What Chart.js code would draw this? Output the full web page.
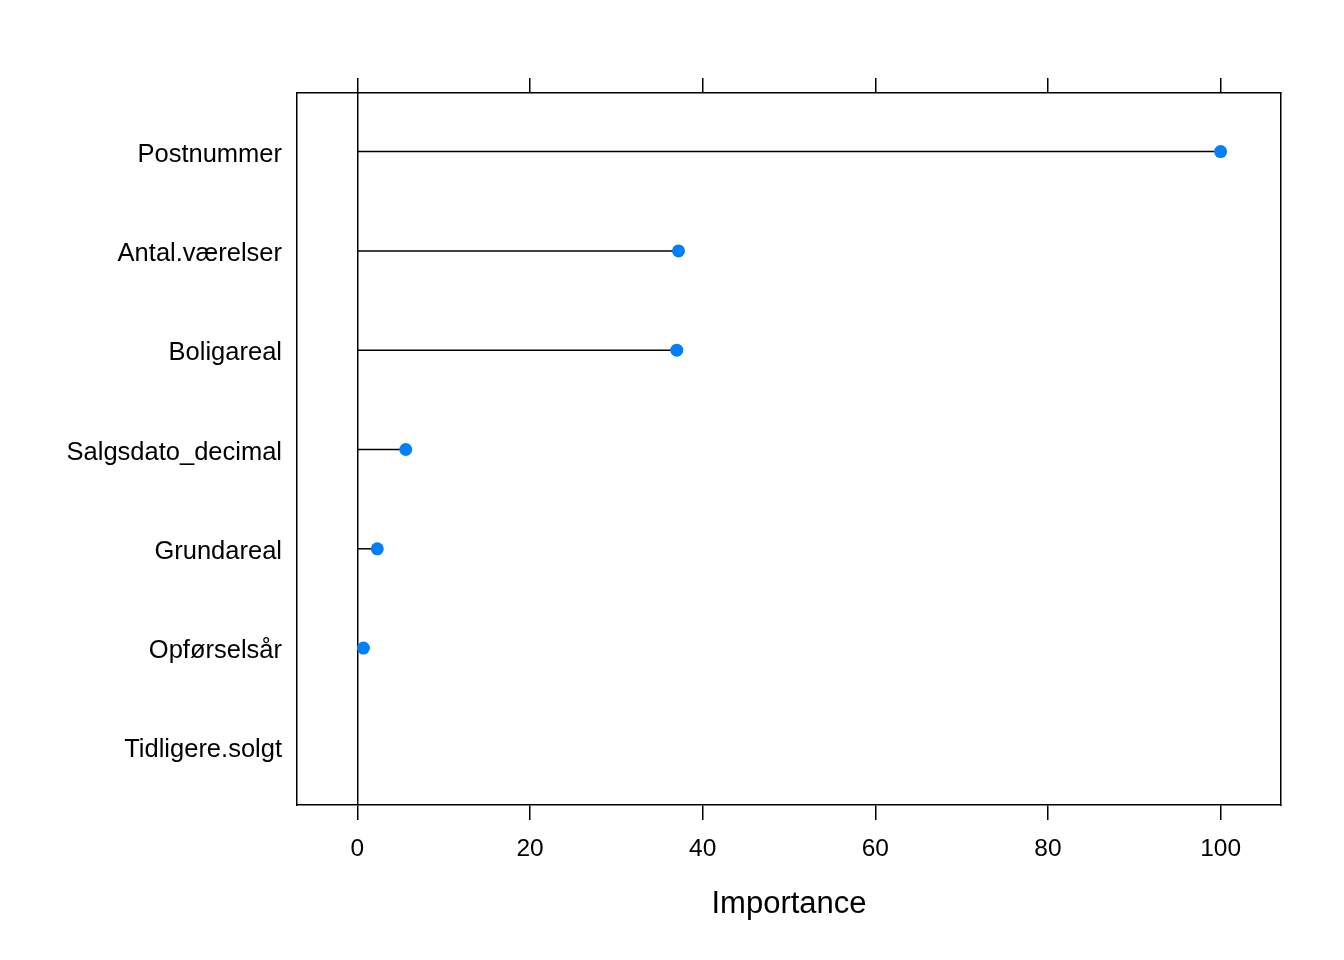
<!DOCTYPE html>
<html>
<head>
<meta charset="utf-8">
<script src="https://cdn.jsdelivr.net/npm/chart.js@4/dist/chart.umd.min.js"></script>
<style>
  html, body { margin: 0; padding: 0; background: #fff; }
  canvas { display: block; }
</style>
</head>
<body>
<canvas id="imp-chart" width="1344" height="960"></canvas>
<script>
const variables  = ['Postnummer', 'Antal.værelser', 'Boligareal', 'Salgsdato_decimal', 'Grundareal', 'Opførselsår', 'Tidligere.solgt'];
const importance = [100, 37.2, 37.0, 5.6, 2.3, 0.7, null];
const xTicks     = [0, 20, 40, 60, 80, 100];

const FONT = "'Liberation Sans', Arial, sans-serif";

// one stem per variable, from 0 to its importance
const stems = variables.map((v, i) => ({
  type: 'line',
  data: importance[i] == null ? [] : [{ x: 0, y: i + 1 }, { x: importance[i], y: i + 1 }],
  borderColor: '#000',
  borderWidth: 1.5,
  pointRadius: 0,
  showLine: true,
  order: 2,
}));

const dots = {
  type: 'scatter',
  data: importance.map((v, i) => v == null ? null : { x: v, y: i + 1 }).filter(p => p),
  backgroundColor: '#0080FF',
  borderColor: '#0080FF',
  borderWidth: 0,
  pointRadius: 6.5,
  order: 1,
};

const setXTicks = s => { s.ticks = xTicks.map(v => ({ value: v })); };
const setYTicks = s => { s.ticks = variables.map((v, i) => ({ value: i + 1 })); };

new Chart(document.getElementById('imp-chart'), {
  type: 'scatter',
  data: { datasets: [...stems, dots] },
  options: {
    responsive: false,
    animation: false,
    layout: { padding: 0 },
    plugins: { legend: { display: false }, tooltip: { enabled: false } },
    scales: {
      x: {
        type: 'linear', position: 'bottom', min: -7, max: 107,
        afterBuildTicks: setXTicks,
        afterFit: s => { s.height = 155; },
        grid: {
          color: c => (c.tick && c.tick.value === 0) ? '#000' : 'rgba(0,0,0,0)',
          tickColor: '#000', tickLength: 15, lineWidth: 1.5,
        },
        border: { display: true, color: '#000', width: 1.5 },
        ticks: { color: '#000', font: { family: FONT, size: 24.5 }, padding: 15, maxRotation: 0 },
        title: { display: true, text: 'Importance', color: '#000', font: { family: FONT, size: 31 }, padding: { top: 0, bottom: 37 } },
      },
      x2: {
        type: 'linear', position: 'top', min: -7, max: 107,
        afterBuildTicks: setXTicks,
        afterFit: s => { s.height = 93; },
        grid: { drawOnChartArea: false, color: '#000', tickColor: '#000', tickLength: 15, lineWidth: 1.5 },
        border: { display: true, color: '#000', width: 1.5 },
        ticks: { display: false },
      },
      y: {
        type: 'linear', position: 'left', min: 0.41, max: 7.58, reverse: true,
        afterBuildTicks: setYTicks,
        afterFit: s => { s.width = 297; },
        grid: { display: false, drawTicks: false },
        border: { display: true, color: '#000', width: 1.5 },
        ticks: {
          color: '#000', font: { family: FONT, size: 25.5 }, padding: 15, labelOffset: 3,
          callback: v => variables[v - 1],
        },
      },
      y2: {
        type: 'linear', position: 'right', min: 0.41, max: 7.58,
        afterFit: s => { s.width = 63; },
        grid: { display: false, drawTicks: false },
        border: { display: true, color: '#000', width: 1.5 },
        ticks: { display: false },
      },
    },
  },
});
</script>
</body>
</html>
